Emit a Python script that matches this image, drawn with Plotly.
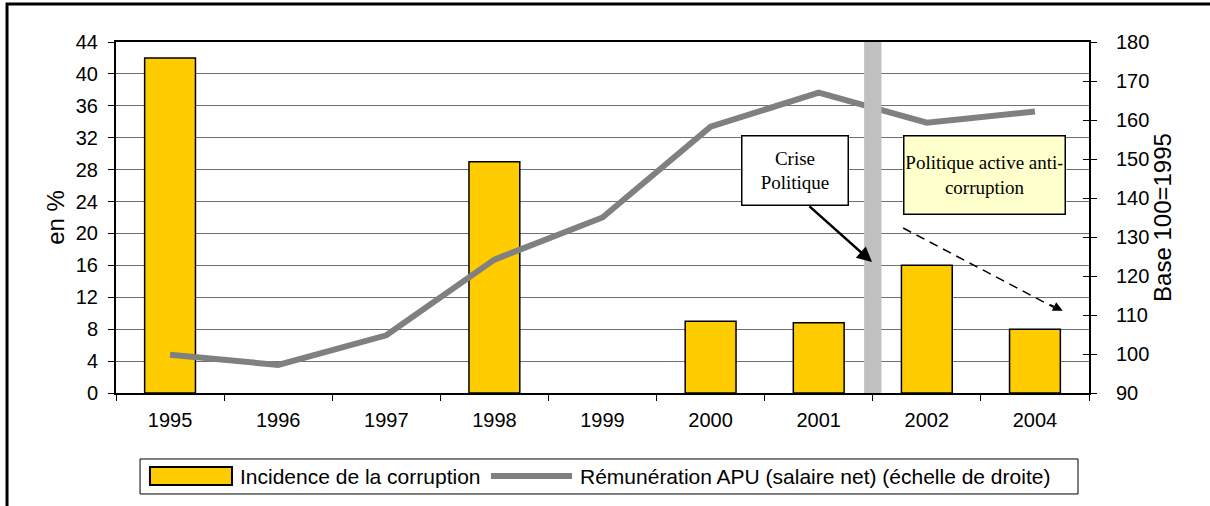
import plotly.graph_objects as go

years = ['1995', '1996', '1997', '1998', '1999', '2000', '2001', '2002', '2004']
corruption = [42, None, None, 29, None, 9, 8.8, 16, 8]  # en %
salaire = [99.8, 97.2, 104.8, 124.2, 135.0, 158.3, 167.0, 159.3, 162.2]  # base 100=1995

bar_name = 'Incidence de la corruption'
line_name = 'Rémunération APU (salaire net) (échelle de droite)'

FONT = 'Liberation Sans, Arial, sans-serif'
SERIF = 'Liberation Serif, Times New Roman, serif'
YELLOW = '#ffcc00'
GREY = '#808080'

fig = go.Figure()
fig.add_trace(go.Bar(
    x=years, y=corruption, name=bar_name,
    marker=dict(color=YELLOW, line=dict(color='black', width=1.5)),
    width=0.47,
))
fig.add_trace(go.Scatter(
    x=years, y=salaire, name=line_name, mode='lines',
    line=dict(color=GREY, width=6), yaxis='y2',
))

# grey band marking the political crisis (between 2001 and 2002)
fig.add_shape(type='rect', xref='x', yref='paper', x0=6.42, x1=6.58, y0=0, y1=1,
              fillcolor='#c0c0c0', line_width=0, layer='above')

# outer frame of the picture
fig.add_shape(type='rect', xref='paper', yref='paper', x0=-0.112, x1=1.2, y0=-0.5, y1=1.108,
              line=dict(color='black', width=3), fillcolor='rgba(0,0,0,0)')

# dashed trend arrow
fig.add_shape(type='line', xref='paper', yref='paper', x0=0.809, y0=0.470, x1=0.968, y1=0.238,
              line=dict(color='black', width=1.5, dash='9px,6px'))
fig.add_annotation(xref='paper', yref='paper', x=0.973, y=0.234, text='', showarrow=True,
                   axref='pixel', ayref='pixel', ax=-14, ay=-7, arrowhead=2, arrowsize=1.3,
                   arrowwidth=1.5, arrowcolor='black')

# crisis label and arrow
fig.add_annotation(xref='paper', yref='paper', x=0.698, y=0.635, xanchor='center',
                   yanchor='middle', text='Crise<br>Politique', showarrow=False,
                   font=dict(family=SERIF, size=19, color='black'),
                   bgcolor='white', bordercolor='black', borderwidth=1.5, borderpad=2,
                   width=101, height=64)
fig.add_annotation(xref='paper', yref='paper', x=0.777, y=0.373, text='', showarrow=True,
                   axref='pixel', ayref='pixel', ax=-64, ay=-57, arrowhead=2, arrowsize=1.2,
                   arrowwidth=2.5, arrowcolor='black')

fig.add_annotation(xref='paper', yref='paper', x=0.893, y=0.620, xanchor='center',
                   yanchor='middle', text='Politique active anti-<br>corruption',
                   showarrow=False, font=dict(family=SERIF, size=19, color='black'),
                   bgcolor='#ffffcc', bordercolor='black', borderwidth=1.5, borderpad=2,
                   width=156, height=73)

# legend drawn by hand, as in the original
fig.add_shape(type='rect', xref='paper', yref='paper', x0=0.0247, x1=0.9887, y0=-0.2877, y1=-0.188,
              line=dict(color='black', width=1), fillcolor='white')
fig.add_shape(type='rect', xref='paper', yref='paper', x0=0.0349, x1=0.1192, y0=-0.2621, y1=-0.2108,
              line=dict(color='black', width=2), fillcolor=YELLOW)
fig.add_shape(type='line', xref='paper', yref='paper', x0=0.3854, x1=0.4687, y0=-0.2365, y1=-0.2365,
              line=dict(color=GREY, width=6))
fig.add_annotation(xref='paper', yref='paper', x=0.1254, y=-0.2365, xanchor='left',
                   yanchor='middle', text=bar_name, showarrow=False, font=dict(size=21))
fig.add_annotation(xref='paper', yref='paper', x=0.4748, y=-0.2365, xanchor='left',
                   yanchor='middle', text=line_name, showarrow=False, font=dict(size=21))

fig.update_layout(
    width=1210, height=506,
    margin=dict(l=116, r=121, t=42, b=113),
    paper_bgcolor='white', plot_bgcolor='white',
    font=dict(family=FONT, size=20, color='black'),
    showlegend=False,
    xaxis=dict(
        type='category', showline=True, linecolor='black', linewidth=2, mirror=True,
        ticks='outside', ticklen=6, tickcolor='black', tickson='boundaries',
        ticklabelstandoff=8, showgrid=False,
    ),
    yaxis=dict(
        title=dict(text='en %', standoff=4), range=[0, 44], dtick=4,
        showline=True, linecolor='black', linewidth=2,
        ticks='outside', ticklen=6, tickcolor='black', ticklabelstandoff=6,
        showgrid=True, gridcolor='#707070', gridwidth=1, zeroline=False,
    ),
    yaxis2=dict(
        title=dict(text='Base 100=1995', standoff=2), range=[90, 180], dtick=10,
        overlaying='y', side='right',
        showline=True, linecolor='black', linewidth=2,
        ticks='outside', ticklen=6, tickcolor='black', ticklabelstandoff=15,
        showgrid=False, zeroline=False,
    ),
    # inner half of the crossing ticks on the right axis
    yaxis3=dict(
        range=[90, 180], dtick=10, overlaying='y', side='right', anchor='x',
        ticks='inside', ticklen=6, tickcolor='black', showticklabels=False,
        showline=False, showgrid=False, zeroline=False,
    ),
)
# empty trace so that the third axis is drawn
fig.add_trace(go.Scatter(x=[years[0]], y=[None], yaxis='y3', showlegend=False, hoverinfo='skip'))

fig.write_html('out.html', config={'displayModeBar': False},
               post_script="document.body.style.margin='0px';")
